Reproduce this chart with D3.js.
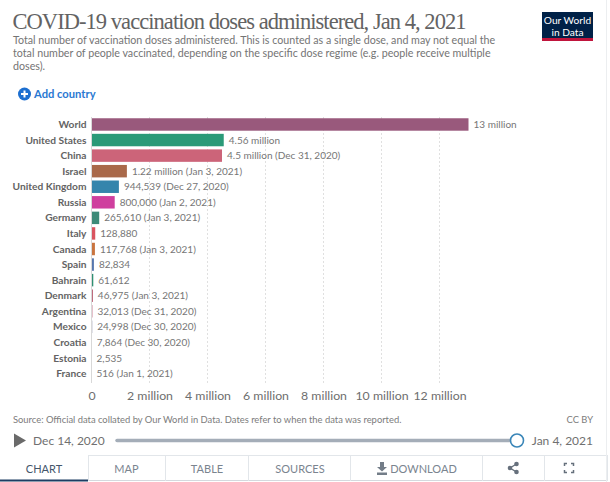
<!DOCTYPE html>
<html lang="en">
<head>
<meta charset="utf-8">
<title>COVID-19 vaccination doses administered</title>
<script src="https://cdnjs.cloudflare.com/ajax/libs/d3/7.8.5/d3.min.js"></script>
<style>
html, body { margin: 0; padding: 0; background: #fff; }
svg { display: block; font-family: Lato, "Open Sans", sans-serif; }
</style>
</head>
<body>
<div id="chart"></div>
<script>
// values
var countries = ["World","United States","China","Israel","United Kingdom","Russia","Germany","Italy","Canada","Spain","Bahrain","Denmark","Argentina","Mexico","Croatia","Estonia","France"];
var doses = [13000000,4560000,4500000,1220000,944539,800000,265610,128880,117768,82834,61612,46975,32013,24998,7864,2535,516];
var doseLabels = ["13 million","4.56 million","4.5 million","1.22 million","944,539","800,000","265,610","128,880","117,768","82,834","61,612","46,975","32,013","24,998","7,864","2,535","516"];
var dateNotes = ["","","Dec 31, 2020","Jan 3, 2021","Dec 27, 2020","Jan 2, 2021","Jan 3, 2021","","Jan 3, 2021","","","Jan 3, 2021","Dec 31, 2020","Dec 30, 2020","Dec 30, 2020","","Jan 1, 2021"];
var xTicks = [0,2000000,4000000,6000000,8000000,10000000,12000000];
var subtitleLines = [
  "Total number of vaccination doses administered. This is counted as a single dose, and may not equal the",
  "total number of people vaccinated, depending on the specific dose regime (e.g. people receive multiple",
  "doses)."
];
var tabNames = ["CHART","MAP","TABLE","SOURCES","DOWNLOAD"];

var barColors = ["#99597c","#2a9a78","#cc6479","#a9694a","#3585ac","#cf3f9e","#3d8a78","#d9545f","#c9743f","#5677ae","#2f8f72","#b5566b","#c66f8a","#7d7fa3","#9db4cc","#a8c0c8","#8fa6c0"];

var svg = d3.select("#chart").append("svg").attr("width", 610).attr("height", 482);

var x = d3.scaleLinear().domain([0, 12000000]).range([91.5, 439.5]);
var y = d3.scaleBand().domain(countries).range([116.7, 381.3]).paddingInner(0.2).paddingOuter(0.1);
var color = d3.scaleOrdinal().domain(countries).range(barColors);

// header
svg.append("text").attr("x", 12.5).attr("y", 29).attr("font-family", "'Liberation Serif', serif")
  .attr("font-size", 22.5).attr("fill", "#636363").attr("textLength", 454)
  .text("COVID-19 vaccination doses administered, Jan 4, 2021");

svg.selectAll(".sub").data(subtitleLines).enter().append("text").attr("class", "sub")
  .attr("x", 13).attr("y", function(d, i){ return 44 + i * 13; })
  .attr("font-size", 10.7).attr("fill", "#747474").text(function(d){ return d; });

// logo
svg.append("rect").attr("x", 542).attr("y", 12).attr("width", 51).attr("height", 29).attr("fill", "#002147");
svg.append("rect").attr("x", 542).attr("y", 38).attr("width", 51).attr("height", 3).attr("fill", "#c0143c");
svg.selectAll(".logo").data(["Our World", "in Data"]).enter().append("text").attr("class", "logo")
  .attr("x", 567.5).attr("y", function(d, i){ return 24 + i * 11.5; }).attr("text-anchor", "middle")
  .attr("font-size", 10.2).attr("fill", "#fff").text(function(d){ return d; });

// add country
svg.append("circle").attr("cx", 24.5).attr("cy", 94).attr("r", 6.5).attr("fill", "#1d6fd0");
svg.append("path").attr("d", "M21 94H28M24.5 90.5V97.5").attr("stroke", "#fff").attr("stroke-width", 2);
svg.append("text").attr("x", 34).attr("y", 98).attr("font-size", 11.2).attr("font-weight", 700)
  .attr("fill", "#2a78d2").text("Add country");

// grid and axis
svg.selectAll(".grid").data(xTicks.slice(1)).enter().append("line").attr("class", "grid")
  .attr("x1", function(d){ return x(d); }).attr("x2", function(d){ return x(d); })
  .attr("y1", 117).attr("y2", 384)
  .attr("stroke", "#e0e0e0").attr("stroke-dasharray", "2,2");

var axis = d3.axisBottom(x).tickValues(xTicks).tickSize(0)
  .tickFormat(function(d){ return d == 0 ? "0" : (d / 1000000) + " million"; });
var axisG = svg.append("g").attr("transform", "translate(0,384)").call(axis);
axisG.select(".domain").remove();
axisG.selectAll("text").attr("font-family", "Lato").attr("font-size", 12.3).attr("fill", "#6e6e6e").attr("dy", 0).attr("y", 15.5);

// bars
svg.selectAll(".bar").data(countries).enter().append("rect").attr("class", "bar")
  .attr("x", x(0))
  .attr("y", function(d){ return y(d); })
  .attr("width", function(d, i){ return x(doses[i]) - x(0); })
  .attr("height", y.bandwidth())
  .attr("fill", function(d){ return color(d); });

svg.append("line").attr("x1", x(0)).attr("x2", x(0)).attr("y1", 117).attr("y2", 383).attr("stroke", "#d8d8d8");

svg.selectAll(".name").data(countries).enter().append("text").attr("class", "name")
  .attr("x", 86.5)
  .attr("y", function(d){ return y(d) + y.bandwidth() / 2 + 3.6; })
  .attr("text-anchor", "end").attr("font-size", 10.2).attr("font-weight", 700).attr("fill", "#636363")
  .text(function(d){ return d; });

svg.selectAll(".val").data(countries).enter().append("text").attr("class", "val")
  .attr("x", function(d, i){ return x(doses[i]) + 5; })
  .attr("y", function(d){ return y(d) + y.bandwidth() / 2 + 3.6; })
  .attr("font-size", 10).attr("fill", "#767676")
  .text(function(d, i){ return doseLabels[i] + (dateNotes[i] ? " (" + dateNotes[i] + ")" : ""); });

// footer
svg.append("text").attr("x", 13).attr("y", 423).attr("font-size", 9.4).attr("fill", "#7c7c7c")
  .text("Source: Official data collated by Our World in Data. Dates refer to when the data was reported.");
svg.append("text").attr("x", 593).attr("y", 423).attr("text-anchor", "end").attr("font-size", 9.4).attr("fill", "#7c7c7c").text("CC BY");

// timeline
svg.append("path").attr("d", "M14 433.5L26 440.5L14 447.5Z").attr("fill", "#6a6a6a");
svg.append("text").attr("x", 33).attr("y", 445).attr("font-size", 12).attr("fill", "#707070").text("Dec 14, 2020");
svg.append("line").attr("x1", 117).attr("x2", 517).attr("y1", 440.5).attr("y2", 440.5)
  .attr("stroke", "#a4adb8").attr("stroke-width", 3.5).attr("stroke-linecap", "round");
svg.append("circle").attr("cx", 517).attr("cy", 440.5).attr("r", 6.5).attr("fill", "#fff").attr("stroke", "#3a86b8").attr("stroke-width", 1.6);
svg.append("text").attr("x", 593).attr("y", 445).attr("text-anchor", "end").attr("font-size", 12).attr("fill", "#707070").text("Jan 4, 2021");

// tabs
var tabEdges = [88,165,248,350,482,544,607];
var tabCentres = [44,126.5,207,300,423.5];
svg.append("line").attr("x1", 88).attr("x2", 607).attr("y1", 455.5).attr("y2", 455.5).attr("stroke", "#e2e6ea");
svg.append("line").attr("x1", 88).attr("x2", 607).attr("y1", 480.5).attr("y2", 480.5).attr("stroke", "#d5d9de");
svg.selectAll(".edge").data(tabEdges).enter().append("line").attr("class", "edge")
  .attr("x1", function(d){ return d + 0.5; }).attr("x2", function(d){ return d + 0.5; })
  .attr("y1", 455).attr("y2", 481).attr("stroke", "#e2e6ea");
svg.append("line").attr("x1", 0).attr("x2", 88).attr("y1", 480.5).attr("y2", 480.5).attr("stroke", "#1d3d63").attr("stroke-width", 2);
svg.selectAll(".tab").data(tabNames).enter().append("text").attr("class", "tab")
  .attr("x", function(d, i){ return tabCentres[i]; }).attr("y", 472.5)
  .attr("text-anchor", "middle").attr("font-size", 11)
  .attr("fill", function(d, i){ return i == 0 ? "#44566b" : "#7a848f"; })
  .text(function(d){ return d; });

// download icon
svg.append("path").attr("d", "M380 462H384V467H387L382 471.5L377 467H380ZM377 472.5H387V475H377Z").attr("fill", "#737d88");
// share icon
var share = svg.append("g").attr("fill", "#66707c");
share.append("path").attr("d", "M516.5 464L510 468L516.5 472").attr("fill", "none").attr("stroke", "#66707c").attr("stroke-width", 1.4);
share.selectAll("circle").data([[516.5,464],[510,468],[516.5,472]]).enter().append("circle")
  .attr("cx", function(d){ return d[0]; }).attr("cy", function(d){ return d[1]; }).attr("r", 2.3);
// fullscreen icon
svg.append("path").attr("d", "M564.5 466V463.5H567M571 463.5H573.5V466M573.5 470V472.5H571M567 472.5H564.5V470")
  .attr("fill", "none").attr("stroke", "#66707c").attr("stroke-width", 1.5);

// outer border on the right
svg.append("line").attr("x1", 606.5).attr("x2", 606.5).attr("y1", 0).attr("y2", 482).attr("stroke", "#eceef0");
</script>
</body>
</html>
